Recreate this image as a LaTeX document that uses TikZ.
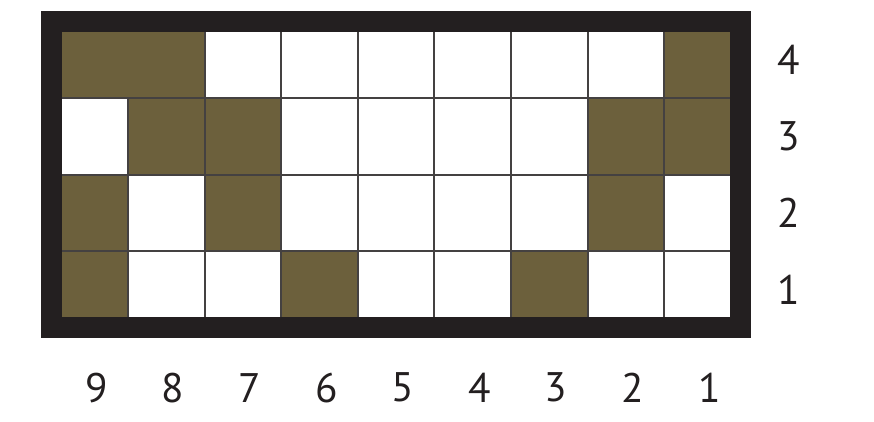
\documentclass[tikz,border=0pt]{standalone}
\usepackage{fontspec}
\setmainfont{PT Sans}
\usetikzlibrary{positioning}
\definecolor{weaveolive}{RGB}{108,96,60}
\definecolor{framedark}{RGB}{35,31,32}

\begin{document}
\begin{tikzpicture}[
  x=1.5cm, y=1.5cm,
  filled/.style={fill=weaveolive},
  gridline/.style={draw=framedark!85, line width=1.1pt},
  frame/.style={draw=framedark, line width=11.7pt},
  lbl/.style={font=\fontsize{23}{28}\selectfont, text=framedark, inner sep=0pt}
]
\useasboundingbox (-0.671,-1.227) rectangle (10.739,4.282);

% filled cells: column from left / row from bottom
\foreach \c/\r in {1/4,2/4,9/4, 2/3,3/3,8/3,9/3, 1/2,3/2,8/2, 1/1,4/1,7/1}
  \fill[filled] (\c-1,\r-1) rectangle (\c,\r);
\foreach \c in {1,...,8}
  \draw[gridline] (\c,0) -- (\c,4);
\foreach \r in {1,...,3}
  \draw[gridline] (0,\r) -- (9,\r);
\fill[filled] (0.2,3.014) rectangle (1.986,3.9);
\draw[frame] (0,0) rectangle (9,4);

% row numbers
\foreach \r in {1,...,4}
  \node[lbl] (row\r) at (9.62,\r-0.5) {\r};
% column numbers
\foreach \c in {1,...,9}{
  \pgfmathtruncatemacro{\n}{10-\c}
  \node[lbl] (col\n) at (\c-0.41,-0.78) {\n};
}
\end{tikzpicture}
\end{document}
